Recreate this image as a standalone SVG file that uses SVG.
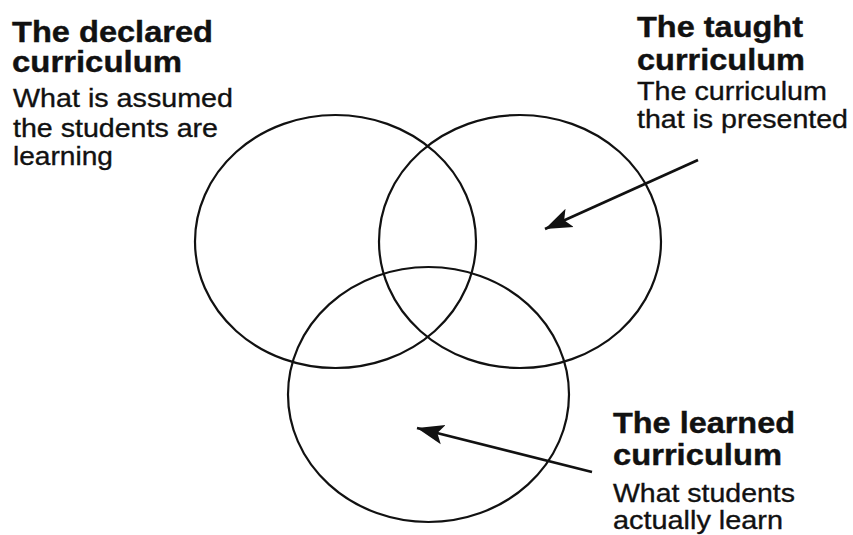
<svg xmlns="http://www.w3.org/2000/svg" width="853" height="535" viewBox="0 0 853 535">
<defs>
<style>
.c{fill:none;stroke:#111;stroke-width:2.2}
.a{fill:none;stroke:#111;stroke-width:2.8}
.b{font-family:"Liberation Sans",Arial,sans-serif;font-weight:bold;font-size:29.5px;fill:#111;stroke:#111;stroke-width:0.4}
.r{font-family:"Liberation Sans",Arial,sans-serif;font-size:26.5px;fill:#111;stroke:#111;stroke-width:0.35}
</style>
<marker id="ah" markerUnits="userSpaceOnUse" markerWidth="30" markerHeight="24" refX="27" refY="10" orient="auto" viewBox="0 0 30 20">
<path d="M0,0 L27,10 L0,20 L6,10 Z" fill="#111"/>
</marker>
</defs>
<g id="declared">
<ellipse class="c" cx="335.5" cy="241.5" rx="140.5" ry="126.5"/>
<text class="b" x="12" y="42" textLength="201" lengthAdjust="spacingAndGlyphs">The declared</text>
<text class="b" x="12" y="72" textLength="170" lengthAdjust="spacingAndGlyphs">curriculum</text>
<text class="r" x="13" y="107" textLength="220" lengthAdjust="spacingAndGlyphs">What is assumed</text>
<text class="r" x="13" y="137" textLength="205" lengthAdjust="spacingAndGlyphs">the students are</text>
<text class="r" x="13" y="165" textLength="100" lengthAdjust="spacingAndGlyphs">learning</text>
</g>
<g id="taught">
<ellipse class="c" cx="520" cy="241.5" rx="141" ry="126.5"/>
<text class="b" x="637" y="37" textLength="166" lengthAdjust="spacingAndGlyphs">The taught</text>
<text class="b" x="637" y="70" textLength="168" lengthAdjust="spacingAndGlyphs">curriculum</text>
<text class="r" x="637" y="100" textLength="190" lengthAdjust="spacingAndGlyphs">The curriculum</text>
<text class="r" x="637" y="128" textLength="211" lengthAdjust="spacingAndGlyphs">that is presented</text>
</g>
<g id="learned">
<ellipse class="c" cx="428.5" cy="394.5" rx="140.5" ry="127.5"/>
<text class="b" x="613" y="433" textLength="182" lengthAdjust="spacingAndGlyphs">The learned</text>
<text class="b" x="613" y="465" textLength="169" lengthAdjust="spacingAndGlyphs">curriculum</text>
<text class="r" x="613" y="502" textLength="182" lengthAdjust="spacingAndGlyphs">What students</text>
<text class="r" x="613" y="529" textLength="170" lengthAdjust="spacingAndGlyphs">actually learn</text>
</g>
<g id="connectors">
<line class="a" x1="698" y1="160" x2="545" y2="229" marker-end="url(#ah)"/>
<line class="a" x1="592" y1="472" x2="417" y2="428" marker-end="url(#ah)"/>
</g>
</svg>
